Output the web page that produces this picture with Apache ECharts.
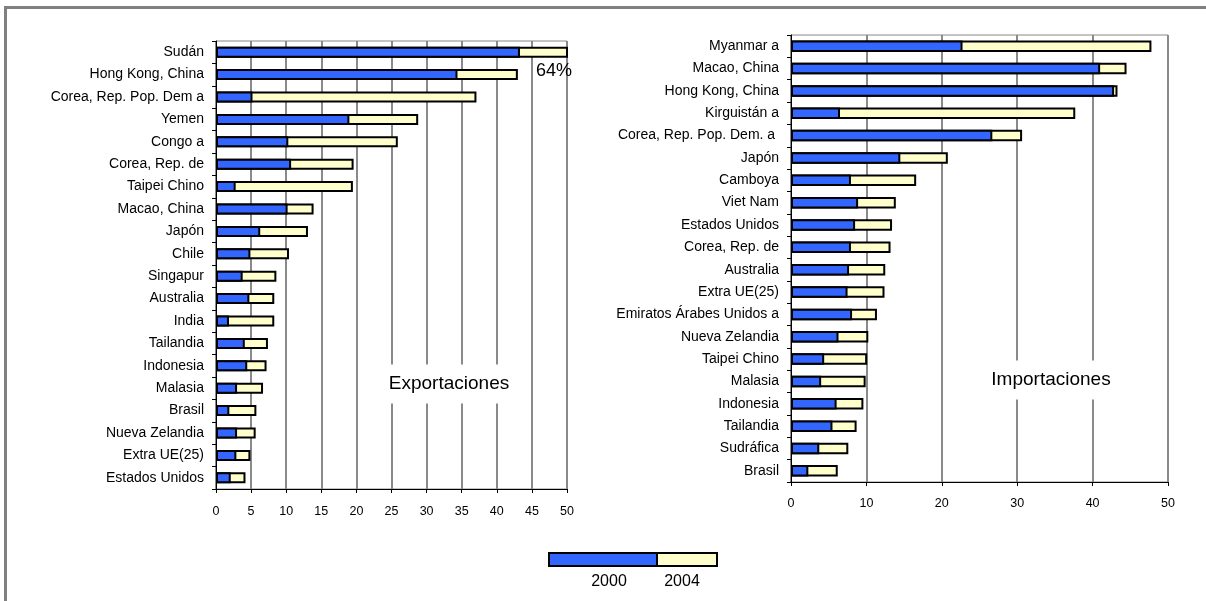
<!DOCTYPE html>
<html>
<head>
<meta charset="utf-8">
<script src="https://cdn.jsdelivr.net/npm/echarts@6/dist/echarts.min.js"></script>
<style>
html,body{margin:0;padding:0;background:#fff;}
#chart{width:1206px;height:601px;}
</style>
</head>
<body>
<div id="chart"></div>
<script>
// Exportaciones
const expCategories = ['Sudán','Hong Kong, China','Corea, Rep. Pop. Dem a','Yemen','Congo a','Corea, Rep. de','Taipei Chino','Macao, China','Japón','Chile','Singapur','Australia','India','Tailandia','Indonesia','Malasia','Brasil','Nueva Zelandia','Extra UE(25)','Estados Unidos'];
const exp2000 = [43.3,34.4,5.2,19.0,10.3,10.7,2.8,10.2,6.3,4.9,3.8,4.75,1.85,4.1,4.45,3.0,1.9,3.0,2.9,2.1];
const exp2004 = [64,43.0,37.1,28.8,25.9,19.6,19.5,13.9,13.1,10.4,8.6,8.3,8.3,7.4,7.2,6.7,5.75,5.65,4.9,4.2];
// Importaciones
const impCategories = ['Myanmar a','Macao, China','Hong Kong, China','Kirguistán a','Corea, Rep. Pop. Dem. a ','Japón','Camboya','Viet Nam','Estados Unidos','Corea, Rep. de','Australia','Extra UE(25)','Emiratos Árabes Unidos a','Nueva Zelandia','Taipei Chino','Malasia','Indonesia','Tailandia','Sudráfica','Brasil'];
const imp2000 = [22.75,41.0,42.85,6.5,26.7,14.5,7.95,8.9,8.5,7.95,7.7,7.5,8.1,6.3,4.4,4.0,6.05,5.5,3.75,2.3];
const imp2004 = [47.8,44.5,43.3,37.7,30.65,20.8,16.6,13.9,13.4,13.2,12.5,12.4,11.4,10.25,10.1,9.9,9.6,8.7,7.6,6.2];
const expTicks = {min:0, max:50, interval:5};
const impTicks = {min:0, max:50, interval:10};
const seriesNames = ['2000','2004'];
const sudanNote = '64%';
const panelTitles = ['Exportaciones','Importaciones'];

const FONT = 'Liberation Sans, Arial, sans-serif';
const BLUE = '#3366FF';
const YELLOW = '#FFFFCC';

function xAxisCfg(gridIndex, t, margin){
  return {
    type:'value', gridIndex, min:t.min, max:t.max, interval:t.interval,
    axisLine:{show:true, lineStyle:{color:'#000', width:1}},
    axisTick:{show:true, length:4, lineStyle:{color:'#000'}},
    axisLabel:{color:'#000', fontSize:12.5, fontFamily:FONT, margin:margin},
    splitLine:{show:true, lineStyle:{color:'#8a8a8a', width:2}}
  };
}
function yAxisCfg(gridIndex, cats){
  return {
    type:'category', gridIndex, data:cats, inverse:true,
    axisLine:{show:true, lineStyle:{color:'#000', width:1}},
    axisTick:{show:true, length:4, lineStyle:{color:'#000'}},
    axisLabel:{color:'#000', fontSize:14, fontFamily:FONT, margin:12},
    splitLine:{show:false}
  };
}
function barSeries(name, color, data, xi, bw){
  return {
    name, type:'bar', xAxisIndex:xi, yAxisIndex:xi, data,
    barWidth:bw, barGap:'-100%', clip:true,
    itemStyle:{color, borderColor:'#000', borderWidth:2},
    emphasis:{disabled:true}, animation:false
  };
}

const chart = echarts.init(document.getElementById('chart'), null, {renderer:'canvas'});
chart.setOption({
  backgroundColor:'#fff',
  animation:false,
  textStyle:{fontFamily:FONT},
  grid:[
    {left:216, top:41, width:351, height:448, show:true, borderColor:'#888', borderWidth:1, backgroundColor:'transparent'},
    {left:791, top:35, width:377, height:447, show:true, borderColor:'#888', borderWidth:1, backgroundColor:'transparent'}
  ],
  xAxis:[xAxisCfg(0, expTicks, 16), xAxisCfg(1, impTicks, 15)],
  yAxis:[yAxisCfg(0, expCategories), yAxisCfg(1, impCategories)],
  legend:[
    {data:[seriesNames[0]], left:548, top:552, itemWidth:108, itemHeight:13, icon:'rect', formatter:()=>'', selectedMode:false, itemGap:0, padding:0},
    {data:[seriesNames[1]], left:656, top:552, itemWidth:60, itemHeight:13, icon:'rect', formatter:()=>'', selectedMode:false, itemGap:0, padding:0}
  ],
  series:[
    barSeries(seriesNames[1], YELLOW, exp2004, 0, 11),
    barSeries(seriesNames[0], BLUE, exp2000, 0, 11),
    barSeries(seriesNames[1], YELLOW, imp2004, 1, 11.5),
    barSeries(seriesNames[0], BLUE, imp2000, 1, 11.5)
  ],
  graphic:[
    {type:'rect', z:100, silent:true, shape:{x:5.5, y:7.5, width:1400, height:800}, style:{fill:'none', stroke:'#808080', lineWidth:3}},
    {type:'text', z:100, silent:true, style:{text:panelTitles[0], x:449, y:384, align:'center', verticalAlign:'middle', fontSize:19, fontFamily:FONT, fill:'#000', backgroundColor:'#fff', padding:[10,8]}},
    {type:'text', z:100, silent:true, style:{text:panelTitles[1], x:1051, y:380, align:'center', verticalAlign:'middle', fontSize:19, fontFamily:FONT, fill:'#000', backgroundColor:'#fff', padding:[10,8]}},
    {type:'text', z:100, silent:true, style:{text:sudanNote, x:536, y:71, align:'left', verticalAlign:'middle', fontSize:18, fontFamily:FONT, fill:'#000'}},
    {type:'text', z:100, silent:true, style:{text:seriesNames[0], x:609, y:582, align:'center', verticalAlign:'middle', fontSize:16, fontFamily:FONT, fill:'#000'}},
    {type:'text', z:100, silent:true, style:{text:seriesNames[1], x:682, y:582, align:'center', verticalAlign:'middle', fontSize:16, fontFamily:FONT, fill:'#000'}}
  ]
});
</script>
</body>
</html>
